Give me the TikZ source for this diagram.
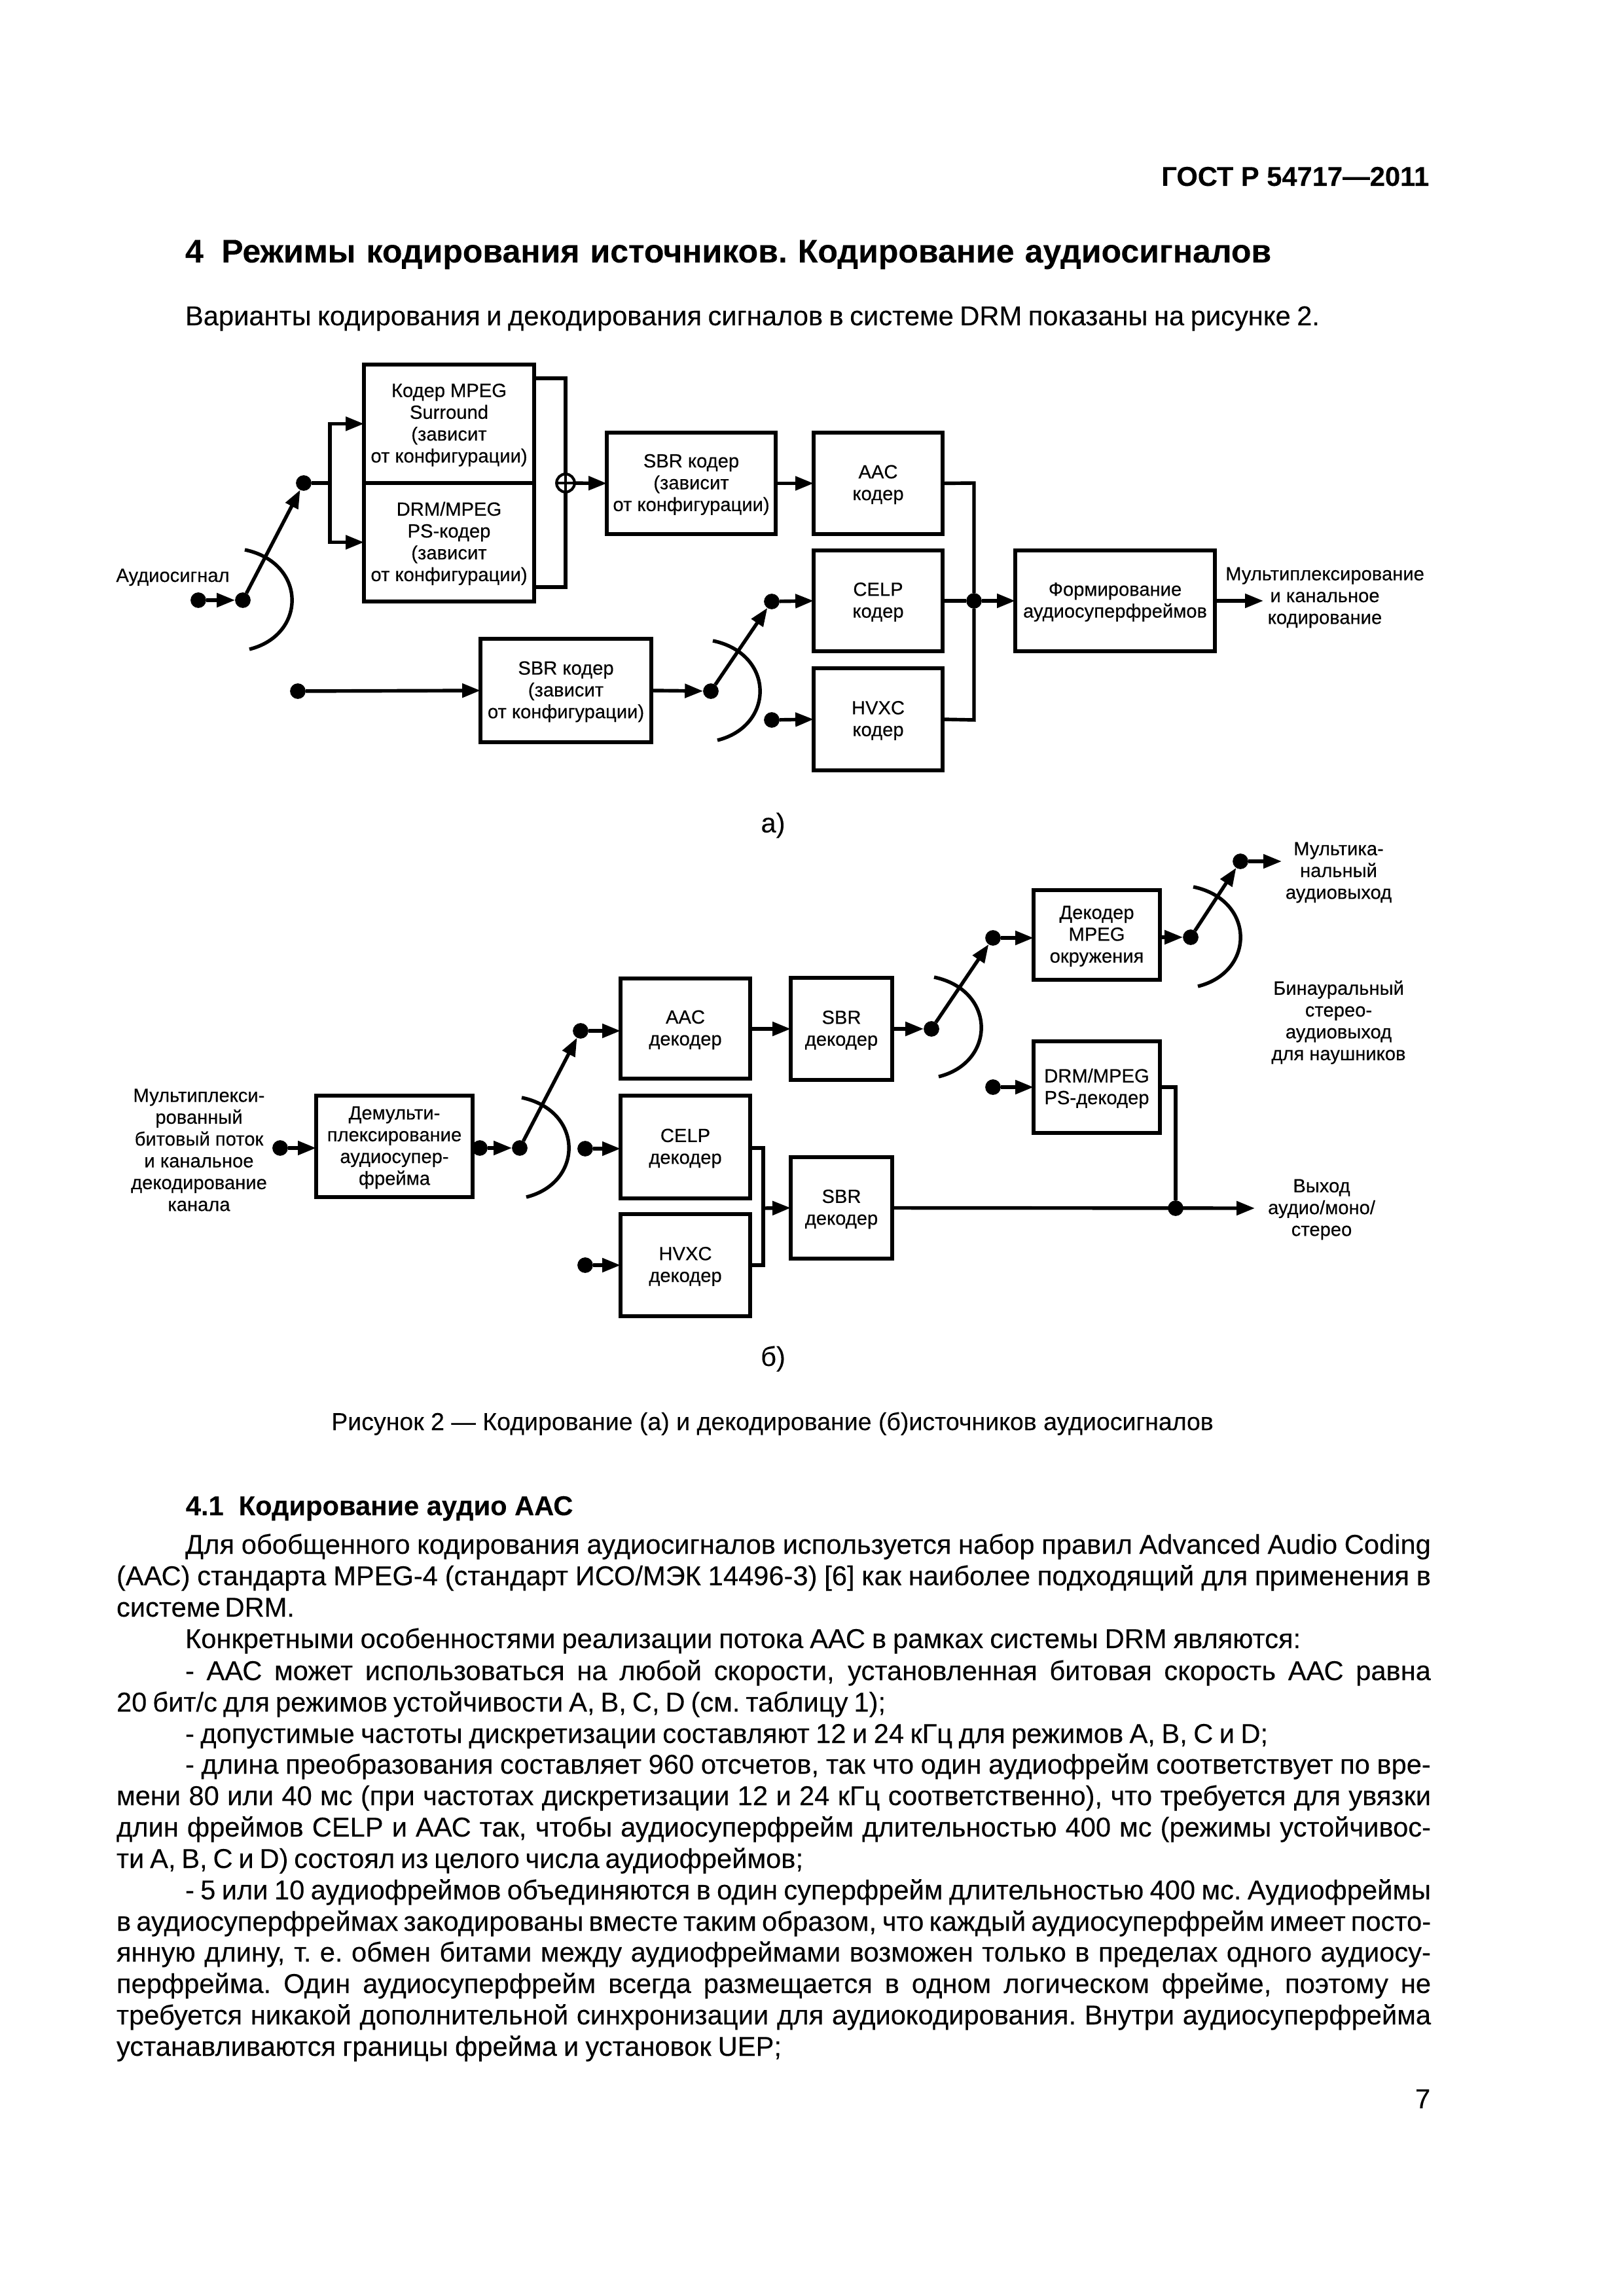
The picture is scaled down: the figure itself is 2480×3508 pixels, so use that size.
\documentclass[tikz,border=0pt]{standalone}
\usepackage{fontspec}
\setmainfont{Liberation Sans}[FakeBold=0.12]
\newfontfamily\diagfont{Liberation Sans}[FakeBold=0.3]
\usetikzlibrary{arrows.meta,calc}
\newcount\linecnt
\newcommand{\bx}[6]{\node[boxed,minimum width={(#4-#2)*0.24pt},minimum height={(#5-#3)*0.24pt},label={[lbl,yshift=-0.45pt]center:{#6}}] (#1) at ({(#2+#4)/2},{(#3+#5)/2}) {};}
\newcommand{\TL}[5][\normalsize]{\global\advance\linecnt by 1
  \node[anchor=base west,inner sep=0pt,outer sep=0pt] (ln\the\linecnt) at (#2,#4) {#1\spaceskip=.278em plus 1fil minus .22em\xspaceskip=\spaceskip\hbox to \dimexpr 0.24pt*(#3-#2)\relax{#5}};}
\newcommand{\SwArc}[2]{\draw[wire,shift={(#1,#2)}] (0,0) .. controls (95,20) and (95,130) .. (7,152);}
\hfuzz=50pt
\begin{document}
\begin{tikzpicture}[x=0.24pt,y=-0.24pt,
  wire/.style={line width=1.3pt},
  arr/.style={wire,-{Triangle[length=6.7pt,width=5pt]}},
  boxed/.style={draw,line width=1.44pt,inner sep=0pt,outer sep=0pt},
  lbl/.style={inner sep=0pt,outer sep=0pt,align=center,font=\diagfont\fontsize{7}{8}\selectfont},
  dot/.style={circle,fill=black,inner sep=0pt,outer sep=0pt,minimum size=5.7pt},
  summer/.style={circle,draw,line width=1pt,fill=white,inner sep=0pt,outer sep=0pt,minimum size=6.6pt}]
\useasboundingbox (0,0) rectangle (2480,3508);
% --- page text
\node[anchor=base east,inner sep=0pt,font=\bfseries\fontsize{10}{12}\selectfont] (hdr) at (2184,284) {ГОСТ Р 54717—2011};
\fontsize{10}{11.5}\selectfont
\TL[\bfseries\fontsize{12}{14}\selectfont]{283}{1942}{401}{4\hspace{0.55em}Режимы кодирования источников. Кодирование аудиосигналов}
\TL{283}{2016}{497}{Варианты кодирования и декодирования сигналов в системе DRM показаны на рисунке 2.}
\node[anchor=base,inner sep=0pt,font=\fontsize{9}{11}\selectfont] (cap) at (1180,2185) {Рисунок 2 — Кодирование (а) и декодирование (б)источников аудиосигналов};
\node[anchor=base west,inner sep=0pt,font=\bfseries\fontsize{10}{12}\selectfont] (h41) at (283,2315) {4.1\hspace{0.55em}Кодирование аудио ААС};
\TL{283}{2186}{2374}{Для обобщенного кодирования аудиосигналов используется набор правил Advanced Audio Coding}
\TL{178}{2186}{2422}{(ААС) стандарта MPEG-4 (стандарт ИСО/МЭК 14496-3) [6] как наиболее подходящий для применения в}
\TL{178}{450}{2470}{системе DRM.}
\TL{283}{1987}{2518}{Конкретными особенностями реализации потока ААС в рамках системы DRM являются:}
\TL{283}{2186}{2567}{- ААС может использоваться на любой скорости, установленная битовая скорость ААС равна}
\TL{178}{1353}{2615}{20 бит/с для режимов устойчивости A, B, C, D (см. таблицу 1);}
\TL{283}{1937}{2663}{- допустимые частоты дискретизации составляют 12 и 24 кГц для режимов A, B, C и D;}
\TL{283}{2186}{2710}{- длина преобразования составляет 960 отсчетов, так что один аудиофрейм соответствует по вре-}
\TL{178}{2186}{2758}{мени 80 или 40 мс (при частотах дискретизации 12 и 24 кГц соответственно), что требуется для увязки}
\TL{178}{2186}{2806}{длин фреймов CELP и ААС так, чтобы аудиосуперфрейм длительностью 400 мс (режимы устойчивос-}
\TL{178}{1227}{2854}{ти A, B, C и D) состоял из целого числа аудиофреймов;}
\TL{283}{2186}{2902}{- 5 или 10 аудиофреймов объединяются в один суперфрейм длительностью 400 мс. Аудиофреймы}
\TL{178}{2186}{2950}{в аудиосуперфреймах закодированы вместе таким образом, что каждый аудиосуперфрейм имеет посто-}
\TL{178}{2186}{2997}{янную длину, т. е. обмен битами между аудиофреймами возможен только в пределах одного аудиосу-}
\TL{178}{2186}{3045}{перфрейма. Один аудиосуперфрейм всегда размещается в одном логическом фрейме, поэтому не}
\TL{178}{2186}{3093}{требуется никакой дополнительной синхронизации для аудиокодирования. Внутри аудиосуперфрейма}
\TL{178}{1194}{3141}{устанавливаются границы фрейма и установок UEP;}
\node[anchor=base east,inner sep=0pt] (pgn) at (2186,3221) {7};
\node[inner sep=0pt,font=\fontsize{10}{12}\selectfont] (capa) at (1181,1261) {а)};
\node[inner sep=0pt,font=\fontsize{10}{12}\selectfont] (capb) at (1181,2076) {б)};
% --- diagram a
\bx{mpeg}{556}{557}{816}{738}{Кодер MPEG\\Surround\\(зависит\\от конфигурации)}
\bx{psk}{556}{738}{816}{919}{DRM/MPEG\\PS-кодер\\(зависит\\от конфигурации)}
\bx{sbra}{927}{661}{1185}{816}{SBR кодер\\(зависит\\от конфигурации)}
\bx{sbrb}{734}{976}{995}{1134}{SBR кодер\\(зависит\\от конфигурации)}
\bx{aac}{1243}{661}{1440}{816}{AAC\\кодер}
\bx{celp}{1243}{841}{1440}{995}{CELP\\кодер}
\bx{hvxc}{1243}{1021}{1440}{1177}{HVXC\\кодер}
\bx{form}{1551}{841}{1856}{995}{Формирование\\аудиосуперфреймов}
\node[dot] (a0) at (303,917) {};
\node[dot] (a1) at (371,917) {};
\node[dot] (a2) at (464,738) {};
\node[dot] (b0) at (455,1056) {};
\node[dot] (b1) at (1086,1056) {};
\node[dot] (b2) at (1179,919) {};
\node[dot] (b3) at (1179,1100) {};
\node[dot] (j) at (1488,918) {};
\node[summer] (sum) at (864,738) {};
\node[lbl] (laud) at (264,882) {Аудиосигнал};
\node[lbl] (lmux) at (2024,913) {Мультиплексирование\\и канальное\\кодирование};
\coordinate (fork) at (504,738);
\coordinate (mt) at (816,578);
\coordinate (mb) at (816,897);
\coordinate (st) at (864,578);
\coordinate (sb) at (864,897);
\coordinate (o1) at (1488,738);
\coordinate (o3) at (1488,1100);
\coordinate (out) at (1930,918);
\draw[arr] (a0) -- (a1);
\draw[arr] (a1) -- (a2);
\SwArc{374}{840}
\draw[wire] (a2) -- (fork);
\draw[arr] (fork) |- (mpeg.west);
\draw[arr] (fork) |- (psk.west);
\draw[wire] (mt) -- (st) -- (sum.north);
\draw[wire] (mb) -- (sb) -- (sum.south);
\draw[line width=1pt] (sum.west) -- (sum.east) (sum.north) -- (sum.south);
\draw[arr] (sum) -- (sbra.west);
\draw[arr] (sbra.east) -- (aac.west);
\draw[arr] (b0) -- (sbrb.west);
\draw[arr] (sbrb.east) -- (b1);
\draw[arr] (b1) -- (b2);
\SwArc{1089}{979}
\draw[arr] (b2) -- (celp.west);
\draw[arr] (b3) -- (hvxc.west);
\draw[wire] (aac.east) -- (o1) -- (j);
\draw[wire] (hvxc.east) -- (o3) -- (j);
\draw[wire] (celp.east) -- (j);
\draw[arr] (j) -- (form.west);
\draw[arr] (form.east) -- (out);
% --- diagram b
\bx{dem}{483}{1674}{722}{1829}{Демульти-\\плексирование\\аудиосупер-\\фрейма}
\bx{aacd}{948}{1495}{1146}{1648}{AAC\\декодер}
\bx{celpd}{948}{1674}{1146}{1831}{CELP\\декодер}
\bx{hvxcd}{948}{1855}{1146}{2011}{HVXC\\декодер}
\bx{sbr1}{1208}{1494}{1363}{1650}{SBR\\декодер}
\bx{sbr2}{1208}{1768}{1363}{1923}{SBR\\декодер}
\bx{mps}{1579}{1360}{1772}{1497}{Декодер\\MPEG\\окружения}
\bx{psd}{1579}{1591}{1772}{1731}{DRM/MPEG\\PS-декодер}
\node[dot] (c0) at (428,1754) {};
\node[dot] (c1) at (733,1754) {};
\node[dot] (c2) at (794,1754) {};
\node[dot] (c3) at (887,1575) {};
\node[dot] (c4) at (894,1755) {};
\node[dot] (c5) at (894,1933) {};
\node[dot] (e1) at (1423,1572) {};
\node[dot] (e2) at (1517,1433) {};
\node[dot] (e3) at (1819,1432) {};
\node[dot] (e4) at (1895,1316) {};
\node[dot] (e5) at (1517,1661) {};
\node[dot] (e6) at (1796,1846) {};
\node[lbl] (lin) at (304,1757) {Мультиплекси-\\рованный\\битовый поток\\и канальное\\декодирование\\канала};
\node[lbl] (lmc) at (2045,1333) {Мультика-\\нальный\\аудиовыход};
\node[lbl] (lbin) at (2045,1562) {Бинауральный\\стерео-\\аудиовыход\\для наушников};
\node[lbl] (lex) at (2019,1848) {Выход\\аудио/моно/\\стерео};
\coordinate (g1) at (1166,1754);
\coordinate (g2) at (1166,1933);
\coordinate (g3) at (1166,1846);
\coordinate (p1) at (1796,1661);
\coordinate (oa) at (1958,1316);
\coordinate (ob) at (1917,1846);
\draw[arr] (c0) -- (dem.west |- c0);
\draw[arr] (c1) -- (c2);
\draw[arr] (c2) -- (c3);
\SwArc{797}{1677}
\draw[arr] (c3) -- (aacd.west |- c3);
\draw[arr] (c4) -- (celpd.west |- c4);
\draw[arr] (c5) -- (hvxcd.west);
\draw[arr] (aacd.east |- sbr1.west) -- (sbr1.west);
\draw[wire] (celpd.east |- g1) -- (g1) -- (g2) -- (hvxcd.east |- g2);
\draw[arr] (g3) -- (sbr2.west);
\draw[arr] (sbr1.east) -- (e1);
\draw[arr] (e1) -- (e2);
\SwArc{1427}{1493}
\draw[arr] (e2) -- (mps.west |- e2);
\draw[arr] (mps.east |- e3) -- (e3);
\draw[arr] (e3) -- (e4);
\SwArc{1823}{1355}
\draw[arr] (e4) -- (oa);
\draw[arr] (e5) -- (psd.west);
\draw[wire] (psd.east) -- (p1) -- (e6);
\draw[arr] (sbr2.east) -- (ob);
\end{tikzpicture}
\end{document}
